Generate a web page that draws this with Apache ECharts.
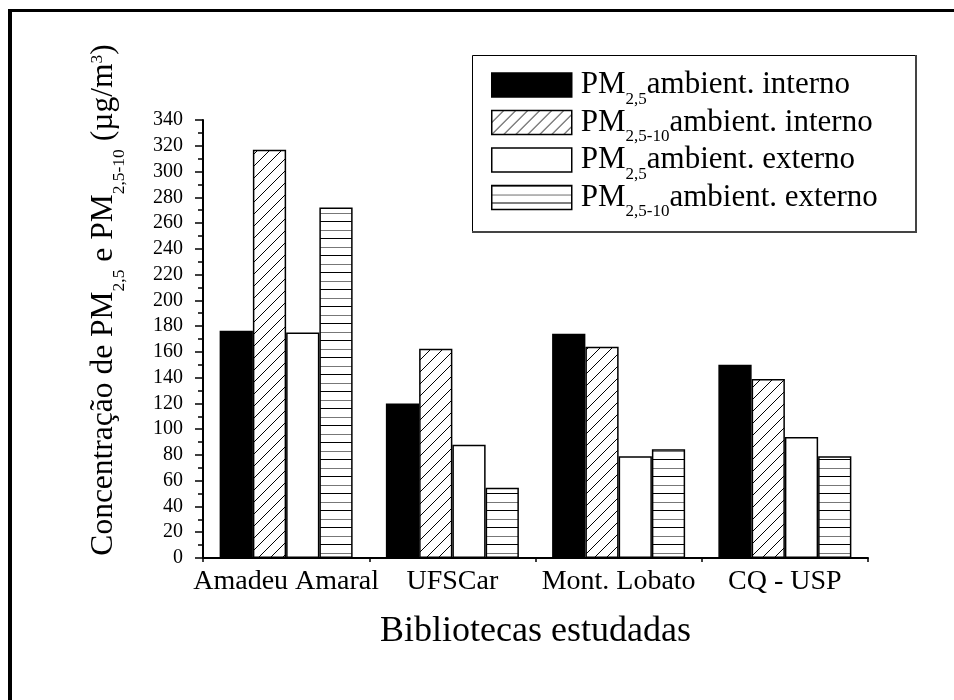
<!DOCTYPE html>
<html>
<head>
<meta charset="utf-8">
<script src="https://cdn.jsdelivr.net/npm/echarts@6/dist/echarts.min.js"></script>
<style>
  html, body { margin: 0; padding: 0; background: #fff; }
  #chart { width: 954px; height: 700px; }
</style>
</head>
<body>
<div id="chart"></div>
<script>
// Libraries studied
const categories = ['Amadeu Amaral', 'UFSCar', 'Mont. Lobato', 'CQ - USP'];

// Concentrations in µg/m³
const pm25Interno = [176.5, 120, 174, 150];
const pm2510Interno = [317, 162.5, 164, 139];
const pm25Externo = [175, 88, 79, 94];
const pm2510Externo = [272, 54.5, 84.5, 79];

// Value axis ticks
const yMin = 0;
const yMax = 340;
const yStep = 20;

// Legend labels: particle fraction (subscripted) + environment
const seriesLabels = [
  { key: 'a', sub: '2,5', rest: 'ambient. interno' },
  { key: 'b', sub: '2,5-10', rest: 'ambient. interno' },
  { key: 'c', sub: '2,5', rest: 'ambient. externo' },
  { key: 'd', sub: '2,5-10', rest: 'ambient. externo' }
];

const serif = "'Liberation Serif', 'Times New Roman', serif";

// Fill patterns
function diagonalHatch() {
  const c = document.createElement('canvas');
  c.width = 12; c.height = 12;
  const g = c.getContext('2d');
  g.fillStyle = '#fff';
  g.fillRect(0, 0, 12, 12);
  g.strokeStyle = '#000';
  g.lineWidth = 1;
  g.beginPath();
  g.moveTo(0, 12); g.lineTo(12, 0);
  g.moveTo(-6, 6); g.lineTo(6, -6);
  g.moveTo(6, 18); g.lineTo(18, 6);
  g.stroke();
  return c;
}
function horizontalHatch() {
  const c = document.createElement('canvas');
  c.width = 4; c.height = 17;
  const g = c.getContext('2d');
  g.fillStyle = '#fff';
  g.fillRect(0, 0, 4, 17);
  g.fillStyle = '#000';
  g.fillRect(0, 0, 4, 1);
  g.fillStyle = '#777';
  g.fillRect(0, 9, 4, 1);
  return c;
}

const fills = [
  '#000',
  { image: diagonalHatch(), repeat: 'repeat' },
  '#fff',
  { image: horizontalHatch(), repeat: 'repeat' }
];
const values = [pm25Interno, pm2510Interno, pm25Externo, pm2510Externo];

const series = seriesLabels.map((s, i) => ({
  type: 'bar',
  name: s.key,
  data: values[i],
  xAxisIndex: 0,
  barGap: '0%',
  barCategoryGap: '20%',
  itemStyle: { color: fills[i], borderColor: '#000', borderWidth: 1.5 },
  emphasis: { disabled: true },
  animation: false
}));

const legendRich = {
  p: { fontFamily: serif, fontSize: 31, lineHeight: 31, color: '#000', verticalAlign: 'middle', padding: [0, 0, 0, 4] },
  n: { fontFamily: serif, fontSize: 31, lineHeight: 31, color: '#000', verticalAlign: 'middle' },
  s: { fontFamily: serif, fontSize: 17, lineHeight: 17, color: '#000', verticalAlign: 'middle', padding: [29, 0, 0, 0] }
};

const yNameRich = {
  n: { fontFamily: serif, fontSize: 31.5, lineHeight: 32, color: '#000', verticalAlign: 'middle' },
  s: { fontFamily: serif, fontSize: 17.5, lineHeight: 18, color: '#000', verticalAlign: 'middle', padding: [30, 0, 0, 0] },
  u: { fontFamily: serif, fontSize: 17.5, lineHeight: 18, color: '#000', verticalAlign: 'top' }
};

const chart = echarts.init(document.getElementById('chart'), null, { renderer: 'canvas' });

chart.setOption({
  animation: false,
  backgroundColor: '#fff',
  grid: { left: 203, right: 86, top: 120, bottom: 142, containLabel: false },
  legend: {
    orient: 'vertical',
    left: 491,
    top: 62,
    padding: 0,
    itemWidth: 80,
    itemHeight: 24,
    itemGap: -8.5,
    icon: 'rect',
    selectedMode: false,
    itemStyle: { borderColor: '#000', borderWidth: 1.5 },
    data: seriesLabels.map(s => s.key),
    formatter: name => {
      const s = seriesLabels.find(x => x.key === name);
      return '{p|PM}{s|' + s.sub + '}{n|' + s.rest + '}';
    },
    textStyle: { rich: legendRich }
  },
  xAxis: [
    {
      type: 'category',
      data: categories,
      position: 'bottom',
      axisLine: { lineStyle: { color: '#000', width: 2 } },
      axisTick: { alignWithLabel: true, length: 8, lineStyle: { color: '#000', width: 1.5 } },
      axisLabel: { interval: 0, fontFamily: serif, fontSize: 28, lineHeight: 28, color: '#000', margin: 10 },
      name: 'Bibliotecas estudadas',
      nameLocation: 'middle',
      nameGap: 56,
      nameTextStyle: { fontFamily: serif, fontSize: 36, lineHeight: 36, color: '#000' }
    },
    {
      type: 'category',
      data: categories,
      position: 'bottom',
      axisLine: { show: false },
      axisTick: { show: true, length: 4, lineStyle: { color: '#000', width: 1.5 } },
      axisLabel: { show: false }
    }
  ],
  yAxis: {
    type: 'value',
    min: yMin,
    max: yMax,
    interval: yStep,
    axisLine: { show: true, lineStyle: { color: '#000', width: 2 } },
    axisTick: { show: true, length: 8, lineStyle: { color: '#000', width: 1.5 } },
    minorTick: { show: true, splitNumber: 2, length: 5, lineStyle: { color: '#000', width: 1.5 } },
    splitLine: { show: false },
    axisLabel: { fontFamily: serif, fontSize: 20, color: '#000', margin: 20 },
    name: '{n|Concentração de PM}{s|2,5}{n| e PM}{s|2,5-10}{n| (µg/m}{u|3}{n|)}',
    nameLocation: 'middle',
    nameGap: 83,
    nameTextStyle: { rich: yNameRich, padding: [0, 0, 0, 78] }
  },
  graphic: [
    // outer frame
    { type: 'line', silent: true, shape: { x1: 10, y1: 9, x2: 10, y2: 700 }, style: { stroke: '#000', lineWidth: 4 } },
    { type: 'line', silent: true, shape: { x1: 8, y1: 10.5, x2: 954, y2: 10.5 }, style: { stroke: '#000', lineWidth: 3 } },
    // legend box
    { type: 'rect', silent: true, shape: { x: 472.5, y: 55.5, width: 443, height: 176 }, style: { fill: null, stroke: '#000', lineWidth: 1 } },
    { type: 'line', silent: true, shape: { x1: 916, y1: 55, x2: 916, y2: 233 }, style: { stroke: '#444', lineWidth: 2 } },
    { type: 'line', silent: true, shape: { x1: 472, y1: 232, x2: 917, y2: 232 }, style: { stroke: '#444', lineWidth: 2 } }
  ],
  series
});
</script>
</body>
</html>
